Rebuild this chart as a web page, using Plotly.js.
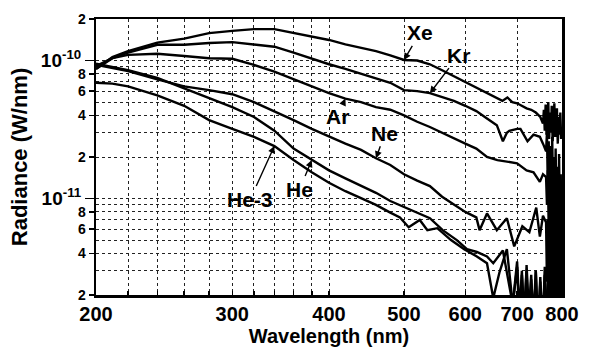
<!DOCTYPE html>
<html><head><meta charset="utf-8">
<script src="https://cdn.plot.ly/plotly-3.0.1.min.js"></script>
<style>html,body{margin:0;padding:0;background:#fff}#chart{width:593px;height:359px}</style>
</head><body><div id="chart"></div>
<script>
// Radiance values are in units of 1e-11 W/nm
const UNIT = 1e-11;

const wlXe  = [200,210,220,240,260,280,300,320,340,360,380,400,420,440,460,480,500,520,540,560,580,600,620,640,660,670,680,690,700,710,720,730,740,750,756,758,760,762,764,766,768,770,772,774,776,778,780,782,784,786,788,790,792,794,796,798,800];
const radXe = [8.7,10.6,11.7,13.5,14.4,15.8,16.4,16.9,16.9,15.8,14.8,14.1,13.1,12.3,11.7,10.9,10.1,10.0,9.4,8.5,7.7,7.0,6.3,5.8,5.3,5.1,5.4,5.0,4.9,4.7,4.5,4.4,4.2,3.9,3.5,4.4,3.1,4.8,2.9,3.9,5.0,2.7,4.2,3.0,4.7,2.6,3.8,4.9,2.8,3.6,4.5,2.5,3.9,2.9,4.2,2.7,3.3];

const wlKr  = [200,210,220,240,260,280,300,320,340,360,380,400,420,440,460,480,500,520,540,560,580,600,620,640,659,671,679,684,700,707,722,735,749,756,763,765,767,769,771,773,775,777,779,781,783,785,787,789,791,793,795,797,799,800];
const radKr = [8.7,10.4,11.4,13.0,13.0,13.4,13.6,13.1,12.6,11.4,10.3,9.4,8.7,8.0,7.4,6.9,6.1,6.0,5.8,5.4,5.1,4.7,4.3,3.8,3.4,2.6,3.0,3.1,3.2,3.2,2.6,2.9,2.8,2.5,2.2,3.0,1.2,2.6,0.9,2.4,0.6,2.8,1.0,2.0,0.5,2.3,0.7,1.7,0.4,2.1,0.6,1.5,0.3,0.8];

const wlAr  = [200,210,220,240,260,280,300,320,340,360,380,400,420,440,460,480,500,520,540,560,580,600,620,640,660,680,700,720,735,749,756,763,765,767,769,771,773,775,777,779,781,783,785,787,789,791,793,795,797,799,800];
const radAr = [9.1,10.4,11.0,11.2,10.8,10.4,10.3,9.3,8.3,7.3,6.5,5.8,5.3,5.0,4.6,4.4,4.0,3.6,3.3,3.0,2.7,2.5,2.3,2.0,1.9,1.85,1.8,1.6,1.55,1.32,1.5,1.43,0.9,1.6,0.6,1.4,0.4,1.3,0.5,1.1,0.3,1.2,0.25,0.9,0.2,1.0,0.15,0.7,0.2,0.5,0.3];

const wlNe  = [200,210,220,240,260,280,300,320,340,360,380,400,420,440,460,480,500,520,540,560,580,600,620,626,640,659,679,694,711,726,741,749,756,763,765,767,769,771,773,775,777,779,781,783,785,787,789,791,793,795,797,799,800];
const radNe = [9.3,8.8,8.4,7.3,6.5,6.1,5.7,5.0,4.3,3.7,3.2,2.8,2.5,2.25,1.96,1.75,1.5,1.35,1.23,1.03,0.9,0.8,0.73,0.59,0.78,0.59,0.72,0.45,0.63,0.57,0.86,0.53,0.75,0.67,0.25,0.7,0.15,0.6,0.12,0.55,0.1,0.5,0.15,0.45,0.1,0.4,0.12,0.5,0.1,0.35,0.1,0.3,0.2];

const wlHe  = [200,210,220,240,260,280,300,320,340,360,380,400,420,440,460,480,500,520,540,561,585,603,621,640,652,671,691,700,705,710,715,720,725,730,735,740,745,750,755,760,764,768,772,776,780,784,788,792,796,800];
const radHe = [9.5,9.0,8.5,7.5,6.3,5.3,4.6,3.9,3.1,2.3,1.9,1.6,1.4,1.24,1.1,0.96,0.87,0.79,0.72,0.59,0.5,0.43,0.41,0.38,0.34,0.42,0.17,0.35,0.15,0.3,0.12,0.33,0.15,0.28,0.1,0.3,0.12,0.27,0.1,0.32,0.1,0.28,0.1,0.3,0.1,0.25,0.1,0.22,0.1,0.2];

const wlHe3  = [200,210,220,240,260,280,300,320,340,360,380,400,420,440,460,480,494,507,524,536,552,575,598,621,640,652,664,679,691,700,705,710,715,720,725,730,735,740,745,750,755,760,764,768,772,776,780,784,788,792,796,800];
const radHe3 = [6.9,6.8,6.5,5.6,4.7,3.7,3.2,2.8,2.4,1.9,1.55,1.3,1.13,1.0,0.9,0.79,0.73,0.62,0.70,0.59,0.61,0.50,0.43,0.38,0.34,0.19,0.29,0.43,0.17,0.32,0.12,0.28,0.15,0.3,0.1,0.26,0.14,0.3,0.1,0.25,0.12,0.28,0.1,0.3,0.12,0.25,0.1,0.3,0.1,0.2,0.12,0.15];

const seriesNames = ['Xe','Kr','Ar','Ne','He','He-3'];
const seriesWl  = [wlXe, wlKr, wlAr, wlNe, wlHe, wlHe3];
const seriesRad = [radXe, radKr, radAr, radNe, radHe, radHe3];
// wavelength on each curve that its label arrow points at
const labelAtWl = [500, 540, 420, 460, 380, 340];

const xTickVals  = [200,300,400,500,600,700,800];
const xMinorVals = [220,240,260,280,320,340,360,380];
const yTickVals  = [2e-12,4e-12,6e-12,8e-12,2e-11,4e-11,6e-11,8e-11,2e-10];
const yTickText  = ['2','4','6','8','2','4','6','8','2'];
const yMinorVals = [3e-12,5e-12,7e-12,9e-12,1e-11,3e-11,5e-11,7e-11,9e-11,1e-10];
const yDecadeVals = [1e-11,1e-10];
const yDecadeText = ['10<sup>-11</sup>','10<sup>-10</sup>'];

const FONT = 'Liberation Sans, Arial, Helvetica, sans-serif';
const labelOffsets = [[16,-27],[29,-38],[-8,18],[9,-25],[-12,29],[-24,53]];

const traces = seriesNames.map((name, i) => ({
  type: 'scatter', mode: 'lines', name: name,
  x: seriesWl[i], y: seriesRad[i].map(v => v * UNIT),
  line: {color: '#000', width: 2.4}, showlegend: false, hoverinfo: 'skip'
}));
traces.push({type:'scatter', mode:'lines', x:[], y:[], yaxis:'y2', showlegend:false, hoverinfo:'skip'});

const annotations = seriesNames.map((name, i) => {
  const k = seriesWl[i].indexOf(labelAtWl[i]);
  return {
    x: Math.log10(seriesWl[i][k]), y: Math.log10(seriesRad[i][k] * UNIT),
    xref: 'x', yref: 'y', text: name, showarrow: true,
    ax: labelOffsets[i][0], ay: labelOffsets[i][1],
    arrowhead: 2, arrowsize: 1, arrowwidth: 1.4, arrowcolor: '#000', standoff: 0,
    font: {family: FONT, size: 21, weight: 'bold', color: '#000'}
  };
});

const yRange = [Math.log10(2e-12), Math.log10(2e-10)];
const gridStyle = {gridcolor: '#222', griddash: 'dot', gridwidth: 1};

const layout = {
  width: 593, height: 359,
  margin: {l: 96, r: 31, t: 19, b: 64},
  paper_bgcolor: '#fff', plot_bgcolor: '#fff',
  font: {family: FONT, color: '#000'},
  showlegend: false,
  xaxis: Object.assign({
    type: 'log', range: [Math.log10(200), Math.log10(800)],
    tickmode: 'array', tickvals: xTickVals, ticktext: xTickVals.map(String),
    tickfont: {family: FONT, size: 20, weight: 'bold'},
    ticks: 'inside', ticklen: 4, tickwidth: 1.5, tickcolor: '#000',
    ticklabelstandoff: -1,
    showline: true, linewidth: 2.5, linecolor: '#000', mirror: true,
    showgrid: true, zeroline: false, automargin: false, fixedrange: true,
    minor: Object.assign({tickvals: xMinorVals, showgrid: true, ticks: 'inside', ticklen: 4, tickcolor: '#000'}, gridStyle),
    title: {text: 'Wavelength (nm)', font: {family: FONT, size: 20, weight: 'bold'}, standoff: 0}
  }, gridStyle),
  yaxis: Object.assign({
    type: 'log', range: yRange,
    tickmode: 'array', tickvals: yTickVals, ticktext: yTickText,
    tickfont: {family: FONT, size: 14, weight: 'bold'},
    ticks: 'outside', ticklen: 5, tickwidth: 1.5, tickcolor: '#000',
    showline: true, linewidth: 2.5, linecolor: '#000', mirror: true,
    showgrid: true, zeroline: false, automargin: false, fixedrange: true,
    minor: Object.assign({tickvals: yMinorVals, showgrid: true, ticks: ''}, gridStyle),
    title: {text: 'Radiance (W/nm)', font: {family: FONT, size: 22, weight: 'bold'}, standoff: 44}
  }, gridStyle),
  yaxis2: {
    type: 'log', range: yRange, overlaying: 'y', side: 'left',
    tickmode: 'array', tickvals: yDecadeVals, ticktext: yDecadeText,
    tickfont: {family: FONT, size: 19, weight: 'bold'},
    ticks: 'outside', ticklen: 10, tickwidth: 1.5, tickcolor: '#000',
    showgrid: false, showline: false, zeroline: false, automargin: false, fixedrange: true
  },
  annotations: annotations
};

Plotly.newPlot('chart', traces, layout, {staticPlot: true, displayModeBar: false});
</script>
</body></html>
